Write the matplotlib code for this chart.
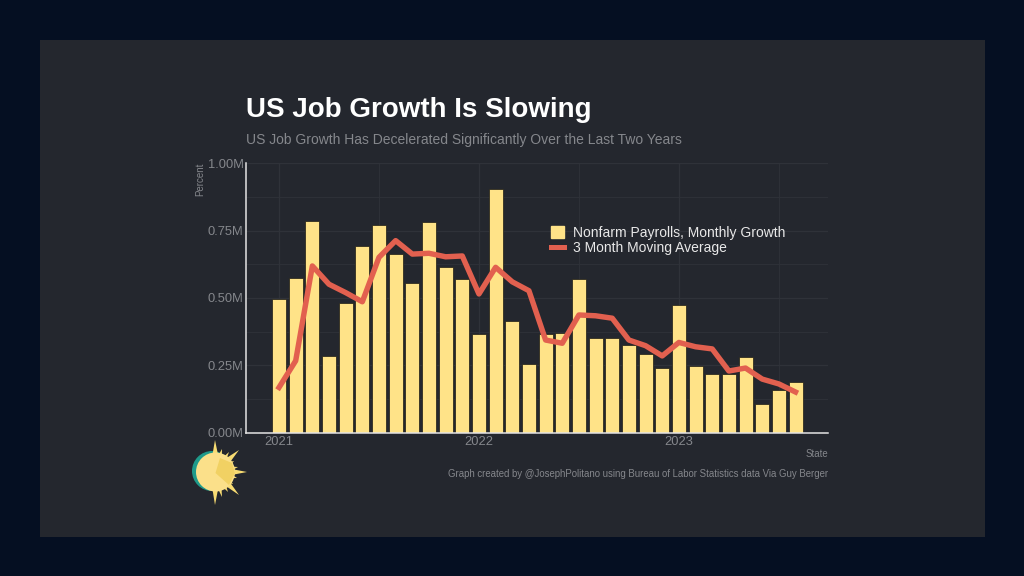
import numpy as np
import matplotlib
matplotlib.use("Agg")
import matplotlib.pyplot as plt
from matplotlib.patches import Circle, Polygon, Rectangle
from matplotlib.lines import Line2D
from matplotlib.ticker import MultipleLocator, FixedLocator

plt.rcParams["font.family"] = ["Liberation Sans", "DejaVu Sans"]

payrolls = [0.495, 0.575, 0.786, 0.286, 0.483, 0.693, 0.770, 0.663, 0.557, 0.782, 0.614, 0.569,
            0.365, 0.905, 0.415, 0.255, 0.365, 0.370, 0.569, 0.353, 0.350, 0.325, 0.291, 0.240,
            0.473, 0.249, 0.218, 0.218, 0.282, 0.106, 0.157, 0.188]
moving_avg = [0.168, 0.267, 0.619, 0.551, 0.520, 0.486, 0.651, 0.713, 0.663, 0.666, 0.653, 0.656,
              0.515, 0.614, 0.560, 0.527, 0.344, 0.332, 0.437, 0.434, 0.425, 0.344, 0.323, 0.285,
              0.335, 0.319, 0.311, 0.229, 0.240, 0.199, 0.181, 0.151]
year_pos = [0, 12, 24]
year_labels = ["2021", "2022", "2023"]
y_ticks = [0, 0.25, 0.5, 0.75, 1.0]
y_labels = ["0.00M", "0.25M", "0.50M", "0.75M", "1.00M"]

C_BG = "#050f22"; C_PANEL = "#24272e"; C_BAR = "#ffe388"; C_LINE = "#e2604f"
C_GREY = "#85878c"; C_GRID = "#2f3239"

W, H = 1024, 576
fig = plt.figure(figsize=(W/100, H/100), dpi=100, facecolor=C_BG)

# overlay in pixel coords for panel, texts, logo
bg = fig.add_axes([0, 0, 1, 1], zorder=0)
bg.set_xlim(0, W); bg.set_ylim(H, 0); bg.axis("off")
bg.add_patch(Rectangle((40, 40), 945, 497, color=C_PANEL, lw=0))

ax = fig.add_axes([245.7/W, 1-432.7/H, (828-245.7)/W, (432.7-163.3)/H], zorder=1)
ax.patch.set_alpha(0)
months = np.arange(len(payrolls))
ax.bar(months, payrolls, width=0.84, color=C_BAR, edgecolor="#1c1a12", linewidth=0.5, zorder=2)
ax.plot(months, moving_avg, color=C_LINE, lw=3.9, solid_joinstyle="round", zorder=3)

ax.set_xlim(-2.0, 32.95)
ax.set_ylim(0, 1)
ax.set_xticks(year_pos)
ax.set_xticklabels(year_labels, fontsize=9.3, color=C_GREY)
ax.set_yticks(y_ticks)
ax.set_yticklabels(y_labels, fontsize=9.3, color=C_GREY)
ax.tick_params(length=0)
ax.tick_params(axis="y", pad=1.5)
ax.tick_params(axis="x", pad=2.5)
ax.yaxis.set_minor_locator(MultipleLocator(0.125))
ax.xaxis.set_minor_locator(FixedLocator([6, 18, 30]))
ax.tick_params(which="minor", length=0)
ax.grid(which="major", color=C_GRID, lw=0.9, zorder=0)
ax.grid(which="minor", color=C_GRID, lw=0.6, zorder=0)
ax.set_axisbelow(True)
for s in ["top", "right"]:
    ax.spines[s].set_visible(False)
for s in ["left", "bottom"]:
    ax.spines[s].set_color("#e4e4e4")
    ax.spines[s].set_linewidth(1.1)

handles = [Rectangle((0, 0), 1, 1, color=C_BAR), Line2D([0], [0], color=C_LINE, lw=3.6)]
ax.legend(handles, ["Nonfarm Payrolls, Monthly Growth", "3 Month Moving Average"],
          loc="upper left", bbox_to_anchor=(0.5245, 0.767), frameon=False, fontsize=10,
          labelcolor="#e8e8e8", handlelength=0.95, handleheight=0.95, handletextpad=0.6,
          labelspacing=0.1, borderpad=0, borderaxespad=0)

# texts
bg.text(246, 110, "US Job Growth Is Slowing", fontsize=20, fontweight="bold", color="white", va="center")
bg.text(246, 140, "US Job Growth Has Decelerated Significantly Over the Last Two Years",
        fontsize=10, color=C_GREY, va="center")
bg.text(200, 179.5, "Percent", fontsize=7, color=C_GREY, rotation=90, ha="center", va="center")
bg.text(828, 454, "State", fontsize=6.9, color=C_GREY, ha="right", va="center")
bg.text(828, 474, "Graph created by @JosephPolitano using Bureau of Labor Statistics data Via Guy Berger",
        fontsize=6.9, color=C_GREY, ha="right", va="center")

# sun logo
cx, cy = 215.5, 472
bg.add_patch(Circle((212, 471), 20, color="#1f9a8a", lw=0, zorder=2))
tips = [(215, 440, 3), (247, 472, 3), (215, 505, 3), (239, 450, 3), (239, 495, 3),
        (222, 449, 2), (229, 452, 2), (234, 461, 2), (238, 467, 2), (237, 478, 2),
        (233, 484, 2), (228, 492, 2), (222, 497, 2)]
for tx, ty, w in tips:
    ang = np.arctan2(ty-cy, tx-cx)
    nx, ny = -np.sin(ang)*w, np.cos(ang)*w
    bx, by = cx+np.cos(ang)*16, cy+np.sin(ang)*16
    bg.add_patch(Polygon([(tx, ty), (bx+nx, by+ny), (bx-nx, by-ny)], color="#f8dc72", lw=0, zorder=3))
bg.add_patch(Circle((cx, cy), 19.5, color="#fbe08a", lw=0, zorder=4))
bg.add_patch(Polygon([(cx, cy+1), (220, 458), (232, 463), (235, 473), (229, 485)], color="#f1d163", lw=0, zorder=5))

fig.savefig("out.png", dpi=100, facecolor=C_BG)
